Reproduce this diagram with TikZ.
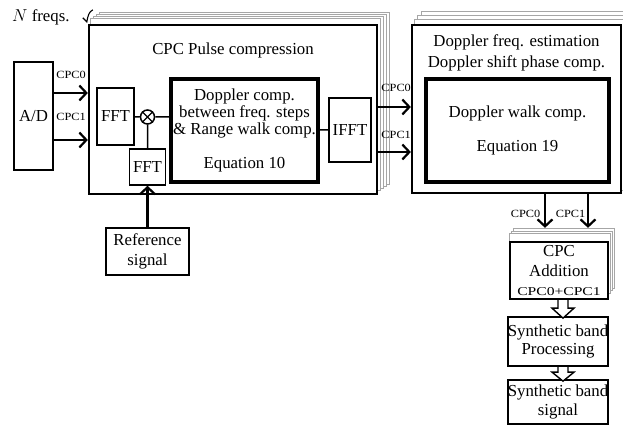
\documentclass[tikz,border=0pt]{standalone}
\usepackage{fontspec}
\setmainfont{Liberation Serif}
\newfontfamily\lblfont[FakeStretch=1.12]{Liberation Serif}
\newfontfamily\sumfont[FakeStretch=1.3]{Liberation Serif}
\usetikzlibrary{arrows.meta,positioning,calc,backgrounds}
\newcommand{\mainsize}{\fontsize{16.8}{19.5}\selectfont}

\begin{document}
\begin{tikzpicture}[x=1pt,y=1pt,
  box/.style={draw,fill=white,line width=1.5pt,inner sep=0pt,font=\mainsize,align=center},
  frame/.style={box,line width=2.3pt},
  heavy/.style={box,line width=4pt},
  copybox/.style={draw=gray!70,fill=white,line width=1pt},
  lbl/.style={font=\lblfont\fontsize{11}{12}\selectfont,inner sep=0pt},
  sig/.style={-{Straight Barb[length=7pt,width=15pt]},line width=2.2pt},
  hollow/.style={draw,fill=white,line width=1.4pt,line join=miter}]
\useasboundingbox (0,0) rectangle (623,425);
% A/D and pulse compression stage
\node[frame,minimum width=39,minimum height=108] (ad) at (33.5,309) {A/D};
\node[frame,minimum width=288,minimum height=169] (pc) at (233,315.5) {};
\node[font=\mainsize] (pctitle) at (233,375) {CPC Pulse compression};
\node[box,minimum width=37,minimum height=57] (fft) at (115.5,308.5) {FFT};
\node[draw,circle,line width=1.5pt,minimum size=14,inner sep=0pt,fill=white] (mix) at (147.5,308) {};
\draw[line width=1.3pt] (mix.north west) -- (mix.south east) (mix.north east) -- (mix.south west);
\node[box,minimum width=36,minimum height=36] (fftref) at (147.5,258) {FFT};
\node[heavy,minimum width=147,minimum height=103,font=\fontsize{16.8}{17}\selectfont] (dcomp) at (244.5,294.5)
  {Doppler comp.\\between freq. steps\\\& Range walk comp.\\[17pt]Equation 10};
\node[box,minimum width=42,minimum height=64] (ifft) at (350,295) {IFFT};
\node[box,line width=1.7pt,minimum width=83,minimum height=47] (ref) at (147.5,173.5) {Reference\\signal};
\draw[line width=1.5pt] (fft) -- (mix) (mix) -- (mix -| dcomp.west) (mix) -- (fftref)
  (ifft.west) -- (ifft.west -| dcomp.east);
\draw[sig] (ref) -- (fftref);

% Doppler estimation stage
\node[frame,minimum width=209,minimum height=168] (est) at (516.5,316) {};
\node[font=\fontsize{16.8}{21}\selectfont,align=center] (esttitle) at (516.5,372.5)
  {Doppler freq. estimation\\Doppler shift phase comp.};
\node[heavy,minimum width=183,minimum height=103] (walk) at (517.5,294.5) {Doppler walk comp.\\[14pt]Equation 19};

% addition and synthetic band
\node[frame,minimum width=98,minimum height=57] (add) at (559,154.5)
  {CPC\\Addition\\{\sumfont\fontsize{12}{14}\selectfont CPC0+CPC1}};
\node[frame,minimum width=100,minimum height=49,font=\fontsize{16.8}{18}\selectfont] (synp) at (558,83.5) {Synthetic band\\Processing};
\node[frame,minimum width=100,minimum height=44] (syns) at (558,23) {Synthetic band\\signal};
\coordinate (addtop) at ($(add.north)+(0,13)$);

% stacked copies (N freqs.)
\begin{scope}[on background layer]
  \foreach \dx/\dy in {11.5/11,8.5/9,5.5/7,2.5/5}
    \draw[copybox] ($(pc.south west)+(\dx,\dy)$) rectangle ($(pc.north east)+(\dx,\dy)$);
  \foreach \dx/\dy in {10.5/12,7/8,3.5/4}
    \draw[copybox] ($(est.south west)+(\dx,\dy)$) rectangle ($(est.north east)+(\dx,\dy)$);
  \foreach \dx/\dy in {5/12,3/9.5,1/7}
    \draw[copybox] ($(add.south west)+(\dx,\dy)$) rectangle ($(add.north east)+(\dx,\dy)$);
\end{scope}

\node[font=\mainsize,anchor=west,inner sep=0pt] (nf) at (12,408) {$N$ freqs.};
\coordinate (tk) at ($(pc.north west)+(-1,2)$);
\draw[line width=1.1pt] ($(tk)+(-4,4)$) -- (tk) .. controls ($(tk)+(1,6)$) and ($(tk)+(2,10)$) .. ($(tk)+(6,12)$);

% signal arrows
\draw[sig] ([yshift=23pt]ad.east) -- ([yshift=23pt]ad.east -| pc.west);
\draw[sig] ([yshift=-24pt]ad.east) -- ([yshift=-24pt]ad.east -| pc.west);
\node[lbl] (adl0) at ($(ad.east)+(17,41)$) {CPC0};
\node[lbl] (adl1) at ($(ad.east)+(17,-1)$) {CPC1};
\draw[sig] ([yshift=2.5pt]pc.east) -- ([yshift=2.5pt]pc.east -| est.west);
\draw[sig] ([yshift=-42.5pt]pc.east) -- ([yshift=-42.5pt]pc.east -| est.west);
\node[lbl] (pcl0) at ($(pc.east)+(18,21.5)$) {CPC0};
\node[lbl] (pcl1) at ($(pc.east)+(18,-25.5)$) {CPC1};
\draw[sig] ([xshift=28.5pt]est.south) -- ([xshift=28.5pt]est.south |- addtop);
\draw[sig] ([xshift=71.5pt]est.south) -- ([xshift=71.5pt]est.south |- addtop);
\node[lbl,anchor=east] (estl0) at ($(est.south)+(24,-20)$) {CPC0};
\node[lbl,anchor=east] (estl1) at ($(est.south)+(69,-20)$) {CPC1};

% hollow arrows
\draw[hollow] ([xshift=-1pt]add.south) -- ++(0,-8) -- ++(-6,0) -- ++(11,-10) -- ++(11,10) -- ++(-6,0) -- ++(0,8);
\draw[hollow] ([xshift=0pt]synp.south) -- ++(0,-5) -- ++(-6,0) -- ++(11,-9) -- ++(11,9) -- ++(-6,0) -- ++(0,5);
\end{tikzpicture}
\end{document}
